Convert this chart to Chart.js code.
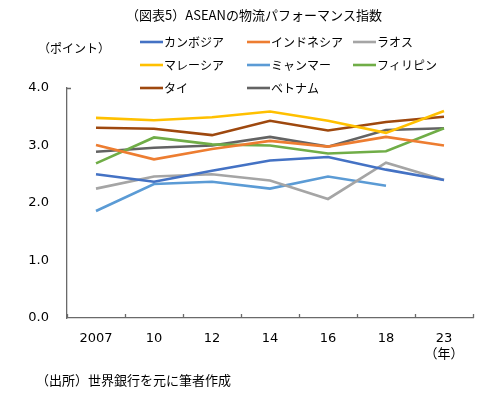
<!DOCTYPE html>
<html>
<head>
<meta charset="utf-8">
<script src="https://cdn.jsdelivr.net/npm/chart.js@4"></script>
<style>
  html,body{margin:0;padding:0;background:#fff;}
  #wrap{width:495px;height:395px;position:relative;}
</style>
</head>
<body>
<div id="wrap"><canvas id="graf" width="495" height="395"></canvas></div>
<script>
(function(){

// dados
const anos = ["2007","10","12","14","16","18","23"];
const camboja   = [2.50,2.37,2.56,2.74,2.80,2.58,2.40];
const indonesia = [3.01,2.76,2.94,3.08,2.98,3.15,3.00];
const laos      = [2.25,2.46,2.50,2.39,2.07,2.70,2.40];
const malasia   = [3.48,3.44,3.49,3.59,3.43,3.22,3.60];
const myanmar   = [1.86,2.33,2.37,2.25,2.46,2.30,null];
const filipinas = [2.69,3.14,3.02,3.00,2.86,2.90,3.30];
const tailandia = [3.31,3.29,3.18,3.43,3.26,3.41,3.50];
const vietna    = [2.89,2.96,3.00,3.15,2.98,3.27,3.30];
const yTicks = [0,1,2,3,4];

const FONT_JP = '"Noto Sans CJK JP","Noto Sans",sans-serif';
const FONT_NUM = '"DejaVu Sans",sans-serif';
const COR_EIXO = '#6a6a6a';

function serie(nome, valores, cor){
  return {label:nome, data:valores, borderColor:cor, backgroundColor:cor,
    borderWidth:2.6, pointRadius:0, tension:0, spanGaps:false};
}

// marcas do eixo x para dentro + textos + legenda
const textos = {
  id:'textos',
  afterDraw(chart){
    const ctx = chart.ctx;
    const xs = chart.scales.x, area = chart.chartArea;
    ctx.save();

    // ticks para cima
    ctx.strokeStyle = COR_EIXO;
    ctx.lineWidth = 1.3;
    ctx.beginPath();
    for(let i=0;i<=anos.length;i++){
      const px = Math.round(xs.getPixelForValue(i-0.5))+0.5;
      ctx.moveTo(px, area.bottom);
      ctx.lineTo(px, area.bottom-4);
    }
    ctx.moveTo(area.left, area.top+0.5);
    ctx.lineTo(area.left+4, area.top+0.5);
    ctx.stroke();

    ctx.fillStyle = '#000';
    ctx.textBaseline = 'middle';

    ctx.font = '13px ' + FONT_JP;
    ctx.textAlign = 'center';
    ctx.fillText('（図表5）ASEANの物流パフォーマンス指数', 254, 15);

    ctx.font = '12px ' + FONT_JP;
    ctx.textAlign = 'left';
    ctx.fillText('（ポイント）', 38, 48);

    ctx.font = '13px ' + FONT_JP;
    ctx.textAlign = 'center';
    ctx.fillText('（年）', xs.getPixelForValue(anos.length-1), 353);

    ctx.textAlign = 'left';
    ctx.fillText('（出所）世界銀行を元に筆者作成', 36, 380);

    // legenda
    const colX = [140, 247, 353];
    const rowY = [42, 65, 88];
    ctx.font = '12px ' + FONT_JP;
    chart.data.datasets.forEach((ds,i)=>{
      const x = colX[i%3], y = rowY[Math.floor(i/3)];
      ctx.strokeStyle = ds.borderColor;
      ctx.lineWidth = 2.6;
      ctx.beginPath();
      ctx.moveTo(x, y);
      ctx.lineTo(x+23, y);
      ctx.stroke();
      ctx.fillStyle = '#000';
      ctx.fillText(ds.label, x+24, y);
    });
    ctx.restore();
  }
};

new Chart(document.getElementById('graf'),{
  type:'line',
  data:{
    labels:anos,
    datasets:[
      serie('カンボジア', camboja, '#4472C4'),
      serie('インドネシア', indonesia, '#ED7D31'),
      serie('ラオス', laos, '#A5A5A5'),
      serie('マレーシア', malasia, '#FFC000'),
      serie('ミャンマー', myanmar, '#5B9BD5'),
      serie('フィリピン', filipinas, '#70AD47'),
      serie('タイ', tailandia, '#9E480E'),
      serie('ベトナム', vietna, '#636363')
    ]
  },
  options:{
    responsive:false,
    animation:false,
    layout:{padding:{top:88, right:22, bottom:49, left:0}},
    plugins:{legend:{display:false}, title:{display:false}, tooltip:{enabled:false}},
    scales:{
      x:{
        offset:true,
        grid:{display:false, drawTicks:false},
        border:{color:COR_EIXO, width:1.3},
        ticks:{color:'#000', font:{family:FONT_NUM, size:13}, padding:13, maxRotation:0},
        afterFit(s){ s.height = 28; }
      },
      y:{
        min:0, max:4,
        afterBuildTicks(s){ s.ticks = yTicks.map(v=>({value:v})); },
        grid:{display:false, drawTicks:false},
        border:{color:COR_EIXO, width:1.3},
        ticks:{color:'#000', font:{family:FONT_NUM, size:13}, padding:18,
          callback:v=>Number(v).toFixed(1)},
        afterFit(s){ s.width = 67; }
      }
    }
  },
  plugins:[textos]
});

})();
</script>
</body>
</html>
